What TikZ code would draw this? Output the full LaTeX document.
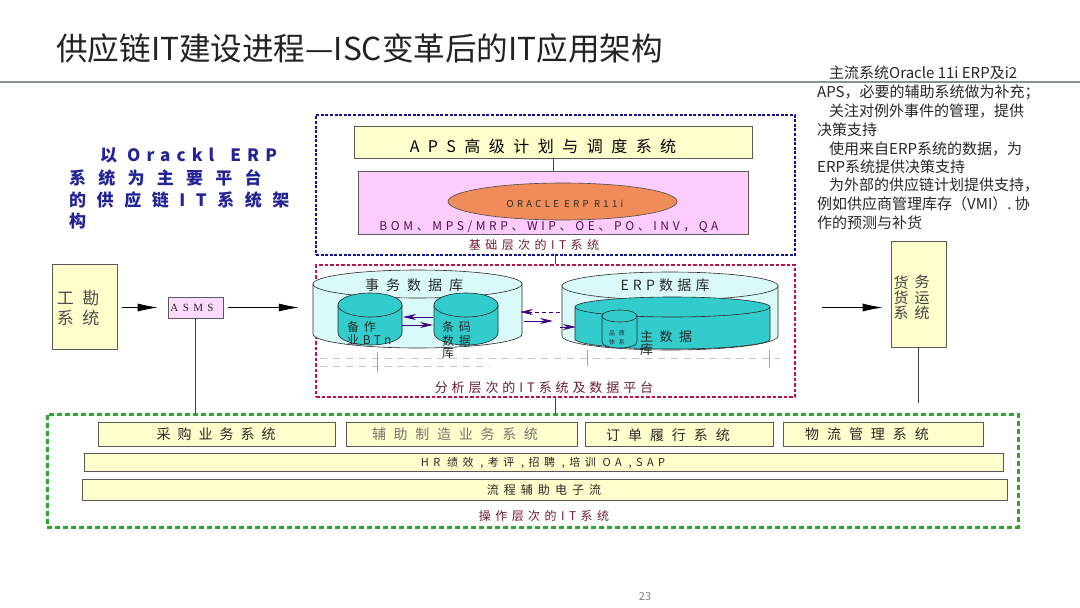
\documentclass[tikz,border=0pt]{standalone}
\usepackage{fontspec}
\setmainfont{Noto Sans CJK SC}
\newfontfamily\serifl{Liberation Serif}
\usetikzlibrary{arrows.meta,shapes.geometric}
\definecolor{titlec}{RGB}{35,35,35}
\definecolor{rulec}{RGB}{135,145,155}
\definecolor{yfill}{RGB}{255,255,204}
\definecolor{pfill}{RGB}{252,204,252}
\definecolor{asmsfill}{RGB}{255,218,255}
\definecolor{orangef}{RGB}{240,140,90}
\definecolor{boxline}{RGB}{90,90,90}
\definecolor{cylpale}{RGB}{218,250,250}
\definecolor{cyanc}{RGB}{51,204,204}
\definecolor{cylline}{RGB}{40,40,40}
\definecolor{parrow}{RGB}{60,0,130}
\definecolor{bluec}{RGB}{20,20,140}
\definecolor{redc}{RGB}{185,20,70}
\definecolor{greenc}{RGB}{40,170,40}
\definecolor{lbltext}{RGB}{110,30,50}
\definecolor{bluetext}{RGB}{35,35,150}
\definecolor{bomc}{RGB}{90,10,90}
\definecolor{dark}{RGB}{40,40,40}
\newcommand\cylshape[6]{%
  \filldraw[fill=#6, draw=cylline, line width=0.6pt] (#1,#3) -- (#1,#4) arc[start angle=180, end angle=0, x radius={(#2-#1)/2}, y radius=#5] -- (#2,#3) -- cycle;
  \filldraw[fill=#6, draw=cylline, line width=0.6pt] ({(#1+#2)/2},#3) ellipse[x radius={(#2-#1)/2}, y radius=#5];
}
\newcommand\fs[2]{\fontsize{#1}{#1}\selectfont\addfontfeature{LetterSpace=#2}}
\tikzset{
  ybox/.style={draw=boxline, fill=yfill, line width=0.7pt, inner sep=0},
  conn/.style={draw=black!75, line width=0.7pt},
  blk/.style={draw=black, line width=0.7pt, -{Latex[length=20pt,width=8pt]}},
  parr/.style={draw=parrow, line width=0.7pt, -{Stealth[length=13pt,width=6pt]}},
  lbl/.style={inner sep=0, text=lbltext},
  txt/.style={inner sep=0, text=dark},
  faint/.style={draw=gray!45, line width=0.6pt, dash pattern=on 7pt off 6pt},
}
\begin{document}
\begin{tikzpicture}[x=1pt,y=-1pt]
\useasboundingbox (0,0) rectangle (1080,608);
\fill[white] (0,0) rectangle (1080,608);
% title
\node[anchor=west, inner sep=0, text=titlec, font=\fontsize{31.6}{36}\selectfont] (title) at (56,48) {供应链IT建设进程—ISC变革后的IT应用架构};
\draw[rulec, line width=2.5pt] (0,82) -- (1080,82);
% right notes
\node[txt, anchor=west, font=\fontsize{15}{15}\selectfont] (n1) at (829,73) {主流系统Oracle 11i ERP及i2};
\node[txt, anchor=west, font=\fontsize{15}{15}\selectfont] (n2) at (817,92) {APS，必要的辅助系统做为补充；};
\node[txt, anchor=west, font=\fontsize{15}{15}\selectfont] (n3) at (829,111) {关注对例外事件的管理，提供};
\node[txt, anchor=west, font=\fontsize{15}{15}\selectfont] (n4) at (817,130) {决策支持};
\node[txt, anchor=west, font=\fontsize{15}{15}\selectfont] (n5) at (829,149) {使用来自ERP系统的数据，为};
\node[txt, anchor=west, font=\fontsize{15}{15}\selectfont] (n6) at (817,167) {ERP系统提供决策支持};
\node[txt, anchor=west, font=\fontsize{15}{15}\selectfont] (n7) at (829,185) {为外部的供应链计划提供支持，};
\node[txt, anchor=west, font=\fontsize{15}{15}\selectfont] (n8) at (817,204) {例如供应商管理库存（VMI）. 协};
\node[txt, anchor=west, font=\fontsize{15}{15}\selectfont] (n9) at (817,223) {作的预测与补货};
% left blue text
\node[inner sep=0, anchor=west, text=bluetext, font=\bfseries\fs{17}{36}] (b1) at (100,155) {以 Orackl\hspace{6pt} ERP};
\node[inner sep=0, anchor=west, text=bluetext, font=\bfseries\fs{17}{72}] (b2) at (69,178) {系统为主要平台};
\node[inner sep=0, anchor=west, text=bluetext, font=\bfseries\fs{17}{62}] (b3) at (69,200) {的供应链IT系统架};
\node[inner sep=0, anchor=west, text=bluetext, font=\bfseries\fs{17}{0}] (b4) at (69,221) {构};
% dashed group boxes
\node[draw=bluec, line width=2.5pt, dash pattern=on 3pt off 1.6pt, minimum width=479pt, minimum height=140pt, inner sep=0] (bluebox) at (555.5,185) {};
\node[draw=redc, line width=2.5pt, dash pattern=on 3.5pt off 2pt, minimum width=479pt, minimum height=132pt, inner sep=0] (redbox) at (555.5,331) {};
\node[draw=greenc, line width=3pt, dash pattern=on 5pt off 3pt, minimum width=971pt, minimum height=113pt, inner sep=0] (greenbox) at (532.5,470.5) {};
% top layer
\node[ybox, minimum width=398pt, minimum height=32pt] (aps) at (553,142) {};
\node[txt, text=black, font=\fs{16}{53}] (apst) at (543,146) {APS高级计划与调度系统};
\node[draw=boxline, fill=pfill, line width=0.7pt, minimum width=390pt, minimum height=63pt, inner sep=0] (pink) at (553,202.5) {};
\node[ellipse, draw=black!70, fill=orangef, line width=0.6pt, minimum width=229pt, minimum height=37pt, inner sep=0] (oracle) at (562.5,201.5) {};
\node[txt, font=\fs{9.5}{35}] (oraclet) at (565,204) {ORACLE ERP R11i};
\node[inner sep=0, text=bomc, font=\fs{12}{30}] (bom) at (549,227) {BOM、MPS/MRP、WIP、OE、PO、INV，QA};
\node[lbl, font=\fs{12}{37}] (jc) at (534,245) {基础层次的IT系统};
\draw[conn] (aps.south) -- (pink.north);
\draw[conn] (bluebox.south) -- (redbox.north);
% databases
\cylshape{313}{522}{284}{334}{14}{cylpale}
\cylshape{338}{402}{305}{333}{12}{cyanc}
\cylshape{434}{498}{305}{333}{12}{cyanc}
\cylshape{562}{778}{286}{336}{14}{cylpale}
\cylshape{575}{770}{307}{339}{10}{cyanc}
\cylshape{602}{637}{316}{342}{6}{cyanc}
\node[txt, font=\fs{14}{50}] (swdb) at (414,285) {事务数据库};
\node[txt, font=\fs{14}{30}] (erpdb) at (665,285) {ERP数据库};
\node[txt, anchor=west, font=\fs{12}{40}] (bz1) at (347,327) {备作};
\node[txt, anchor=west, font=\fs{12}{30}] (bz2) at (347,340) {业BTn};
\node[txt, anchor=west, font=\fs{12}{40}] (tm1) at (442,327) {条码};
\node[txt, anchor=west, font=\fs{12}{40}] (tm2) at (442,341) {数据};
\node[txt, anchor=west, font=\fs{12}{0}] (tm3) at (442,353) {库};
\node[txt, anchor=west, font=\fs{13}{50}] (zsj) at (640,337) {主数据};
\node[txt, anchor=west, font=\fs{13}{0}] (zsj2) at (640,350) {库};
\node[txt, anchor=west, font=\fs{6}{60}] (pz1) at (609,333) {品质};
\node[txt, anchor=west, font=\fs{6}{60}] (pz2) at (609,342) {体系};
\coordinate (c1r) at (402,325);
\coordinate (c1l) at (403,317);
\coordinate (c2l) at (433,317);
\coordinate (c2r) at (433,325);
\draw[parr] (c2l) -- (c1l);
\draw[parr] (c1r) -- (c2r);
\coordinate (d1a) at (560,312);
\coordinate (d1b) at (520,312);
\coordinate (d2a) at (524,321);
\coordinate (d2b) at (553,321);
\coordinate (d3a) at (560,327);
\coordinate (d3b) at (576,327);
\draw[parr, dash pattern=on 4pt off 3pt] (d1a) -- (d1b);
\draw[parr] (d2a) -- (d2b);
\draw[parr] (d3a) -- (d3b);
\draw[faint] (320,358) -- (780,358);
\draw[faint] (320,366) -- (490,366);
\draw[gray!70, line width=0.6pt] (377,352) -- (377,372);
\draw[gray!70, line width=0.6pt] (587,350) -- (587,366);
\draw[gray!70, line width=0.6pt] (769,350) -- (769,368);
\node[lbl, font=\fs{13}{30}] (fx) at (544,388) {分析层次的IT系统及数据平台};
\draw[conn] (redbox.south) -- (greenbox.north -| redbox.south);
% left
\node[ybox, minimum width=65pt, minimum height=85pt] (gk) at (84.5,306.5) {};
\node[txt, text=black!70, font=\fs{17}{50}] (gkt1) at (78,298) {工勘};
\node[txt, text=black!70, font=\fs{17}{50}] (gkt2) at (78,318) {系统};
\node[draw=boxline, fill=asmsfill, line width=0.7pt, minimum width=55pt, minimum height=21pt, inner sep=0] (asms) at (195.5,307.5) {};
\node[inner sep=0, text=dark, font=\serifl\fs{11}{40}] (asmst) at (192,308) {ASMS};
\draw[blk, shorten <=5pt, shorten >=10pt] (gk.east |- asms.west) -- (asms.west);
\draw[blk, shorten <=5pt, shorten >=16pt] (asms.east) -- (redbox.west |- asms.east);
\draw[conn] (asms.south) -- (asms.south |- greenbox.north);
% right
\node[ybox, minimum width=55pt, minimum height=106pt] (xy) at (918.5,294) {};
\node[txt, text=black!75, font=\fs{15}{0}] (xa1) at (901,283) {货};
\node[txt, text=black!75, font=\fs{15}{0}] (xa2) at (901,298) {货};
\node[txt, text=black!75, font=\fs{15}{0}] (xa3) at (901,313) {系};
\node[txt, text=black!75, font=\fs{15}{0}] (xb1) at (922,282) {务};
\node[txt, text=black!75, font=\fs{15}{0}] (xb2) at (922,298) {运};
\node[txt, text=black!75, font=\fs{15}{0}] (xb3) at (922,313) {统};
\coordinate (xyin) at (822,307.5);
\coordinate (xyend) at (918.5,403);
\draw[blk, shorten >=8pt] (xyin) -- (xy.west |- xyin);
\draw[conn] (xy.south) -- (xyend);
% bottom layer
\node[ybox, minimum width=237pt, minimum height=24pt] (cg) at (216.5,434) {};
\node[ybox, minimum width=231pt, minimum height=24pt] (fz) at (461.5,434) {};
\node[ybox, minimum width=188pt, minimum height=24pt] (dd) at (679,434) {};
\node[ybox, minimum width=200pt, minimum height=24pt] (wl) at (883,434) {};
\node[txt, font=\fs{14}{50}] (cgt) at (216,434) {采购业务系统};
\node[txt, text=black!55, font=\fs{14}{55}] (fzt) at (455,434) {辅助制造业务系统};
\node[txt, font=\fs{14}{57}] (ddt) at (668,435) {订单履行系统};
\node[txt, font=\fs{14}{57}] (wlt) at (867,434) {物流管理系统};
\node[ybox, minimum width=919pt, minimum height=18pt] (hr) at (543.5,462) {};
\node[txt, font=\fs{11}{40}] (hrt) at (543,463) {HR 绩效 ,考评 ,招聘 ,培训 OA ,SAP};
\node[ybox, minimum width=925pt, minimum height=21pt] (lc) at (544.5,489.5) {};
\node[txt, font=\fs{12}{42}] (lct) at (544,490) {流程辅助电子流};
\node[lbl, font=\fs{12}{37}] (cz) at (544,516) {操作层次的IT系统};
% page number
\node[inner sep=0, text=gray, font=\fontsize{11}{11}\selectfont] (pg) at (645,597) {23};
\end{tikzpicture}
\end{document}
